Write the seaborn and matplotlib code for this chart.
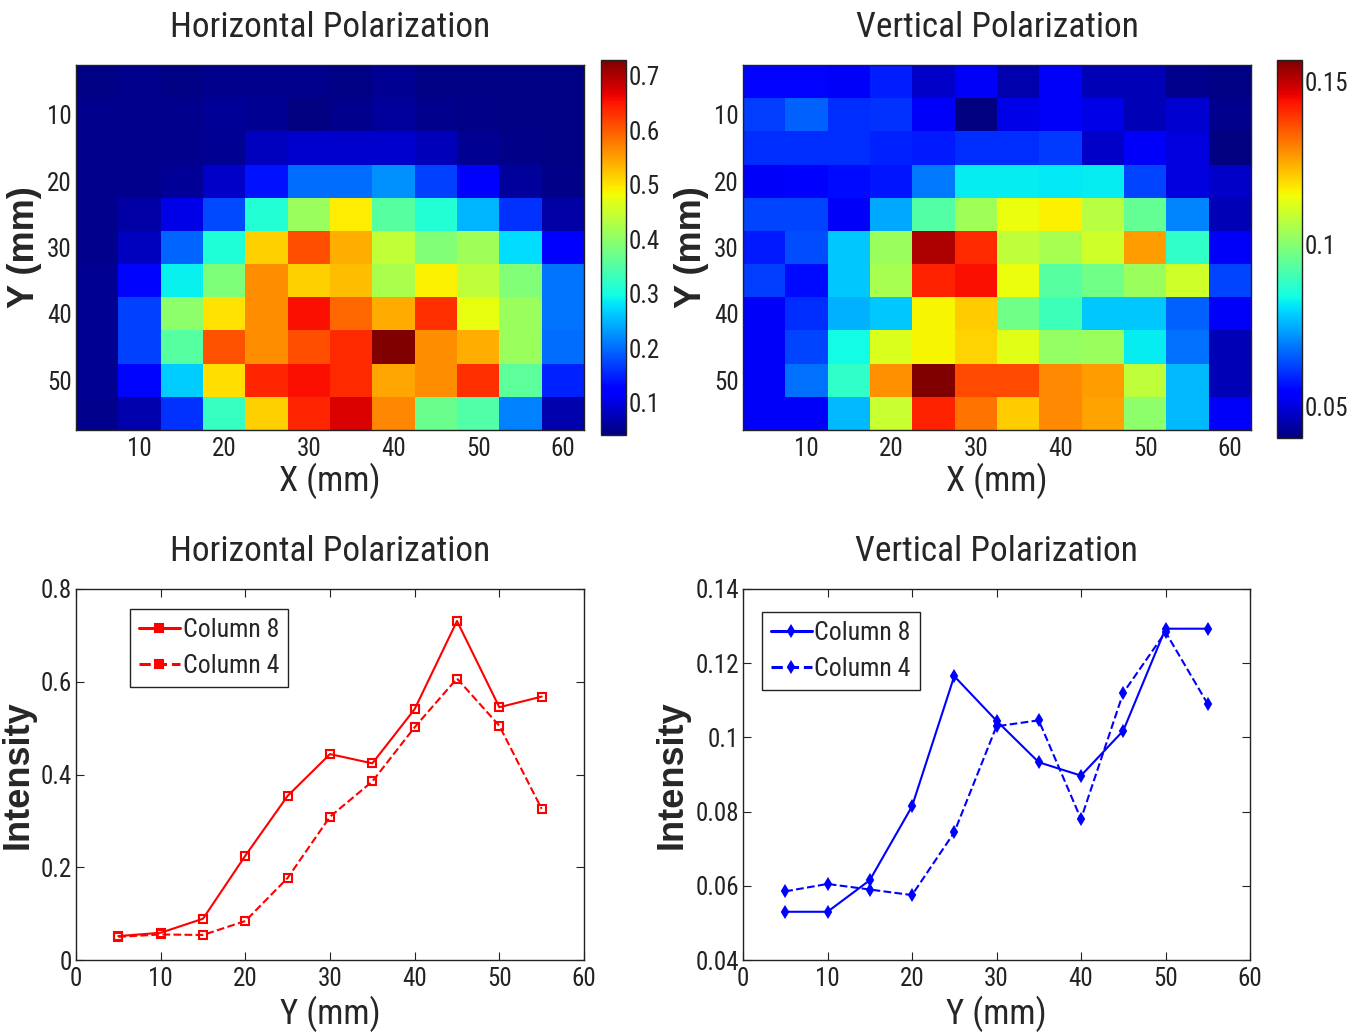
import numpy as np
import pandas as pd
import seaborn as sns
import matplotlib
matplotlib.use('Agg')
import matplotlib.pyplot as plt
from matplotlib import ticker, font_manager

# grid positions (mm)
x_mm = [5, 10, 15, 20, 25, 30, 35, 40, 45, 50, 55, 60]
y_mm = [5, 10, 15, 20, 25, 30, 35, 40, 45, 50, 55]

# horizontal polarization map, rows = y, cols = x
horiz = [
    [0.045, 0.050, 0.045, 0.050, 0.050, 0.050, 0.046, 0.052, 0.045, 0.045, 0.044, 0.044],
    [0.050, 0.050, 0.050, 0.055, 0.052, 0.043, 0.050, 0.059, 0.050, 0.048, 0.046, 0.046],
    [0.050, 0.050, 0.050, 0.054, 0.080, 0.088, 0.088, 0.089, 0.078, 0.052, 0.047, 0.046],
    [0.050, 0.050, 0.055, 0.084, 0.140, 0.200, 0.200, 0.225, 0.170, 0.120, 0.058, 0.048],
    [0.050, 0.064, 0.104, 0.177, 0.310, 0.410, 0.495, 0.354, 0.310, 0.250, 0.160, 0.064],
    [0.050, 0.080, 0.195, 0.309, 0.515, 0.610, 0.540, 0.444, 0.390, 0.415, 0.275, 0.125],
    [0.052, 0.130, 0.290, 0.385, 0.565, 0.515, 0.530, 0.424, 0.490, 0.440, 0.390, 0.205],
    [0.052, 0.170, 0.400, 0.502, 0.565, 0.655, 0.590, 0.541, 0.630, 0.475, 0.410, 0.205],
    [0.052, 0.170, 0.355, 0.607, 0.565, 0.610, 0.635, 0.731, 0.565, 0.540, 0.410, 0.200],
    [0.052, 0.130, 0.265, 0.505, 0.640, 0.655, 0.635, 0.545, 0.565, 0.630, 0.360, 0.150],
    [0.050, 0.070, 0.160, 0.326, 0.515, 0.640, 0.675, 0.568, 0.370, 0.350, 0.215, 0.070],
]

# vertical polarization map
vert = [
    [0.055, 0.055, 0.053, 0.0585, 0.048, 0.053, 0.045, 0.053, 0.046, 0.046, 0.042, 0.041],
    [0.062, 0.066, 0.060, 0.0605, 0.053, 0.040, 0.051, 0.053, 0.051, 0.046, 0.049, 0.042],
    [0.060, 0.060, 0.060, 0.059, 0.058, 0.060, 0.060, 0.0615, 0.048, 0.053, 0.050, 0.040],
    [0.053, 0.054, 0.056, 0.0575, 0.069, 0.082, 0.082, 0.0814, 0.082, 0.063, 0.050, 0.048],
    [0.063, 0.063, 0.053, 0.0744, 0.093, 0.104, 0.114, 0.1165, 0.107, 0.095, 0.070, 0.046],
    [0.058, 0.064, 0.078, 0.103, 0.152, 0.141, 0.108, 0.1045, 0.110, 0.127, 0.088, 0.053],
    [0.062, 0.056, 0.078, 0.1046, 0.142, 0.144, 0.114, 0.0933, 0.097, 0.103, 0.110, 0.063],
    [0.053, 0.060, 0.075, 0.078, 0.116, 0.121, 0.097, 0.0897, 0.078, 0.078, 0.066, 0.053],
    [0.053, 0.063, 0.084, 0.112, 0.116, 0.120, 0.113, 0.1018, 0.103, 0.082, 0.068, 0.046],
    [0.053, 0.068, 0.088, 0.1284, 0.157, 0.137, 0.137, 0.1293, 0.127, 0.108, 0.076, 0.046],
    [0.053, 0.053, 0.076, 0.109, 0.142, 0.132, 0.121, 0.1293, 0.126, 0.101, 0.076, 0.053],
]

# line profiles along Y
h_col8 = [0.0516, 0.0587, 0.089, 0.225, 0.354, 0.444, 0.424, 0.541, 0.731, 0.545, 0.568]
h_col4 = [0.050, 0.055, 0.054, 0.084, 0.177, 0.309, 0.385, 0.502, 0.607, 0.505, 0.326]
v_col8 = [0.053, 0.053, 0.0615, 0.0814, 0.1165, 0.1045, 0.0933, 0.0897, 0.1018, 0.1293, 0.1293]
v_col4 = [0.0585, 0.0605, 0.059, 0.0575, 0.0744, 0.103, 0.1046, 0.078, 0.112, 0.1284, 0.109]

# pick a narrow face if one is installed, otherwise shrink Liberation Sans a bit
names = {f.name for f in font_manager.fontManager.ttflist}
narrow_face = next((n for n in ['Liberation Sans Narrow', 'Roboto Condensed',
                                'Open Sans Condensed', 'DejaVu Sans Condensed']
                    if n in names), None)
if narrow_face:
    narrow = [narrow_face, 'DejaVu Sans']
    k = 1.0
else:
    narrow = ['Liberation Sans', 'DejaVu Sans']
    k = 0.86

sns.set_style('white')
wide_bold = dict(family=['Liberation Sans', 'DejaVu Sans'], weight='bold', size=26)
plt.rcParams['font.family'] = narrow
plt.rcParams['font.size'] = 17 * k
plt.rcParams['axes.edgecolor'] = '#222222'
plt.rcParams['axes.linewidth'] = 1.0

W, H = 1353, 1036
fig = plt.figure(figsize=(W / 100, H / 100), dpi=100)


def rect(l, t, r, b):
    return [l / W, 1 - b / H, (r - l) / W, (b - t) / H]


def box_ticks(ax):
    ax.tick_params(direction='in', top=True, right=True, bottom=True, left=True,
                   length=6, width=0.8, colors='#222222', labelcolor='#222222',
                   labelsize=18 * k)


def heat(data, ax_r, cax_r, vmin, vmax, cticks, title):
    ax = fig.add_axes(rect(*ax_r))
    cax = fig.add_axes(rect(*cax_r))
    df = pd.DataFrame(data, index=y_mm, columns=x_mm)
    sns.heatmap(df, ax=ax, cbar_ax=cax, cmap='jet', vmin=vmin, vmax=vmax,
                xticklabels=False, yticklabels=False)
    ax.set_xticks(np.arange(1, 12, 2) + 0.5, labels=x_mm[1::2])
    ax.set_yticks(np.arange(1, 11, 2) + 0.5, labels=y_mm[1::2], rotation=0)
    for s in ax.spines.values():
        s.set_visible(True)
        s.set_linewidth(1.0)
        s.set_color('#222222')
    box_ticks(ax)
    ax.tick_params(axis='x', pad=5)
    ax.tick_params(axis='y', pad=3)
    ax.set_title(title, fontsize=25.5 * k, pad=20)
    ax.set_xlabel('X (mm)', fontsize=25 * k)
    ax.xaxis.set_label_coords(0.5, -0.09)
    ax.set_ylabel('Y (mm)', **wide_bold)
    ax.yaxis.set_label_coords(-0.066, 0.5)
    cb = ax.collections[0].colorbar
    cb.outline.set_linewidth(1.0)
    cb.outline.set_edgecolor('#222222')
    cb.set_ticks(cticks, labels=[f'{t:g}' for t in cticks])
    cax.tick_params(direction='in', left=True, right=True, length=4, width=0.8,
                    labelsize=18 * k, pad=2, colors='#222222')
    return ax


heat(horiz, (76, 65, 584, 430), (601, 60, 626, 435), 0.041, 0.729,
     [0.1, 0.2, 0.3, 0.4, 0.5, 0.6, 0.7], 'Horizontal Polarization')
heat(vert, (743, 65, 1251, 430), (1277, 60, 1302, 438), 0.0404, 0.1567,
     [0.05, 0.1, 0.15], 'Vertical Polarization')


def profile(c8, c4, ax_r, color, marker, ylim, yticks, leg_anchor, title,
            msize, mfc, ylab_x):
    ax = fig.add_axes(rect(*ax_r))
    style = dict(color=color, marker=marker, markersize=msize, markerfacecolor=mfc,
                 markeredgecolor=color, markeredgewidth=1.5, linewidth=1.5)
    sns.lineplot(x=y_mm, y=c8, ax=ax, label='Column 8', **style)
    sns.lineplot(x=y_mm, y=c4, ax=ax, linestyle='--', label='Column 4', **style)
    ax.set_xlim(0, 60)
    ax.set_ylim(*ylim)
    ax.set_xticks(range(0, 61, 10))
    ax.set_yticks(yticks)
    ax.yaxis.set_major_formatter(ticker.FormatStrFormatter('%g'))
    box_ticks(ax)
    ax.tick_params(axis='x', pad=5)
    ax.tick_params(axis='y', pad=3)
    for s in ax.spines.values():
        s.set_linewidth(1.0)
    ax.set_title(title, fontsize=25.5 * k, pad=20)
    ax.set_xlabel('Y (mm)', fontsize=25 * k)
    ax.xaxis.set_label_coords(0.5, -0.095)
    ax.set_ylabel('Intensity', **wide_bold)
    ax.yaxis.set_label_coords(ylab_x, 0.5)
    leg = ax.legend(loc='upper left', bbox_to_anchor=leg_anchor, borderaxespad=0,
                    fontsize=18.5 * k, fancybox=False, framealpha=1, edgecolor='#222222',
                    handlelength=1.6, handletextpad=0.1, labelspacing=0.45,
                    borderpad=0.35)
    leg.get_frame().set_linewidth(1.0)
    for h in leg.legend_handles:
        h.set_linewidth(2.2)
        h.set_markerfacecolor(color)
    return ax


profile(h_col8, h_col4, (76, 589, 584, 960), 'red', 's', (0, 0.8),
        [0, 0.2, 0.4, 0.6, 0.8], (0.106, 0.946), 'Horizontal Polarization', 5.5, 'none',
        -0.08)
profile(v_col8, v_col4, (743, 589, 1250, 960), 'blue', 'd', (0.04, 0.14),
        [0.04, 0.06, 0.08, 0.1, 0.12, 0.14], (0.037, 0.938), 'Vertical Polarization',
        5, 'blue', -0.105)

fig.savefig('out.png', dpi=100)
